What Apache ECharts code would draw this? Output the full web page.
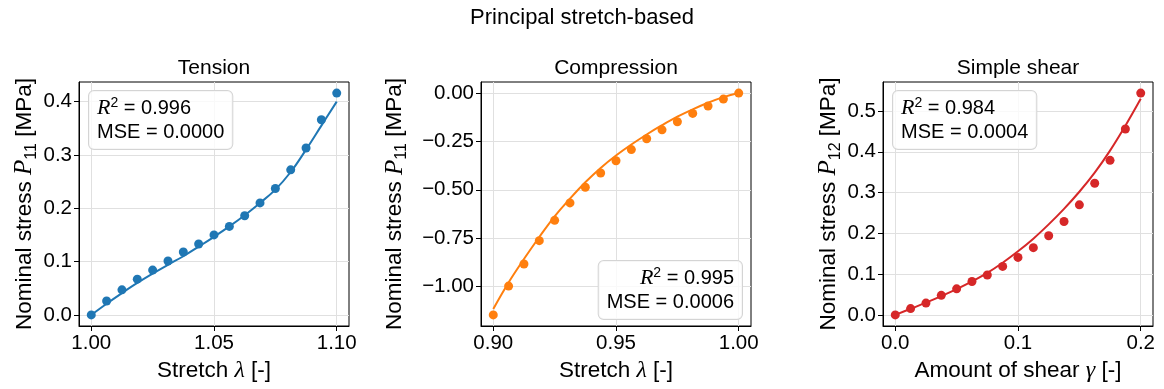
<!DOCTYPE html>
<html>
<head>
<meta charset="utf-8">
<script src="https://cdn.jsdelivr.net/npm/echarts@6/dist/echarts.min.js"></script>
<style>
  html, body { margin: 0; padding: 0; background: #fff; }
  #chart { width: 1164px; height: 389px; }
</style>
</head>
<body>
<div id="chart"></div>
<script>
// Uniaxial tension: measured nominal stress and model fit
const tensionStretch = [1.00000, 1.00625, 1.01250, 1.01875, 1.02500, 1.03125, 1.03750, 1.04375, 1.05000,
                        1.05625, 1.06250, 1.06875, 1.07500, 1.08125, 1.08750, 1.09375, 1.10000];
const tensionData = [0, 0.026, 0.047, 0.067, 0.084, 0.101, 0.118, 0.133, 0.150,
                     0.166, 0.186, 0.210, 0.237, 0.272, 0.313, 0.366, 0.416];
const tensionFit = [0, 0.021, 0.041, 0.060, 0.0775, 0.094, 0.110, 0.128, 0.1465,
                    0.166, 0.187, 0.210, 0.235, 0.268, 0.310, 0.355, 0.400];

// Uniaxial compression
const compressionStretch = [0.90000, 0.90625, 0.91250, 0.91875, 0.92500, 0.93125, 0.93750, 0.94375, 0.95000,
                            0.95625, 0.96250, 0.96875, 0.97500, 0.98125, 0.98750, 0.99375, 1.00000];
const compressionData = [-1.147, -0.998, -0.884, -0.763, -0.658, -0.568, -0.487, -0.413, -0.350,
                         -0.292, -0.236, -0.190, -0.148, -0.105, -0.067, -0.031, 0];
const compressionFit = [-1.116, -0.979, -0.858, -0.744, -0.637, -0.546, -0.461, -0.387, -0.323,
                        -0.266, -0.214, -0.166, -0.122, -0.084, -0.050, -0.021, 0];

// Simple shear
const shearAmount = [0, 0.0125, 0.025, 0.0375, 0.05, 0.0625, 0.075, 0.0875, 0.1,
                     0.1125, 0.125, 0.1375, 0.15, 0.1625, 0.175, 0.1875, 0.2];
const shearData = [0, 0.0155, 0.029, 0.048, 0.064, 0.082, 0.098, 0.119, 0.141,
                   0.165, 0.194, 0.229, 0.270, 0.323, 0.379, 0.456, 0.544];
const shearFit = [0, 0.015, 0.030, 0.046, 0.063, 0.082, 0.103, 0.128, 0.156,
                  0.187, 0.222, 0.260, 0.302, 0.349, 0.403, 0.464, 0.530];

// Tick positions
const tensionXTicks = [1.00, 1.05, 1.10];
const tensionYTicks = [0.0, 0.1, 0.2, 0.3, 0.4];
const compressionXTicks = [0.90, 0.95, 1.00];
const compressionYTicks = [-1.00, -0.75, -0.50, -0.25, 0.00];
const shearXTicks = [0.0, 0.1, 0.2];
const shearYTicks = [0.0, 0.1, 0.2, 0.3, 0.4, 0.5];

// Fit quality annotations
const panelTitles = ['Tension', 'Compression', 'Simple shear'];
const r2Values = ['0.996', '0.995', '0.984'];
const mseValues = ['0.0000', '0.0006', '0.0004'];

const SANS = "'Liberation Sans', Arial, sans-serif";
const SERIF = "'Liberation Serif', 'DejaVu Serif', serif";
const colors = ['#1f77b4', '#ff7f0e', '#d62728'];

function zip(xs, ys) { return xs.map((x, i) => [x, ys[i]]); }
function padded(values, frac) {
  const lo = Math.min(...values), hi = Math.max(...values);
  const m = (hi - lo) * frac;
  return [lo - m, hi + m];
}
function fmt(digits) {
  return v => v.toFixed(digits).replace('-', '\u2212');
}

const mathRich = {
  t: { fontFamily: SANS, fontSize: 22.5, color: '#000', lineHeight: 30, verticalAlign: 'middle' },
  i: { fontFamily: SERIF, fontStyle: 'italic', fontSize: 25, color: '#000', lineHeight: 30, verticalAlign: 'middle' },
  m: { fontFamily: SERIF, fontStyle: 'italic', fontSize: 24, color: '#000', lineHeight: 30, verticalAlign: 'middle' },
  sub: { fontFamily: SANS, fontSize: 16, color: '#000', lineHeight: 16, verticalAlign: 'bottom' }
};

function valueAxis(gridIndex, range, ticks, digits, name, nameGap) {
  return {
    type: 'value',
    gridIndex: gridIndex,
    min: range[0],
    max: range[1],
    name: name,
    nameLocation: 'middle',
    nameGap: nameGap,
    nameTextStyle: { rich: mathRich },
    axisLine: { show: true, onZero: false, lineStyle: { color: '#000', width: 1 } },
    axisTick: { show: true, inside: false, length: 5, customValues: ticks, lineStyle: { color: '#000', width: 1 } },
    axisLabel: { customValues: ticks, formatter: fmt(digits), fontFamily: SANS, fontSize: 20.5, color: '#000', margin: 7 },
    splitLine: { show: true, lineStyle: { color: '#e0e0e0', width: 1 } }
  };
}

const xName1 = '{t|Stretch }{m|\u03bb}{t| [-]}';
const xName3 = '{t|Amount of shear }{m|\u03b3}{t| [-]}';
const yName11 = '{t|Nominal stress }{i|P}{sub|11}{t| [MPa]}';
const yName12 = '{t|Nominal stress }{i|P}{sub|12}{t| [MPa]}';

const gridTop = 82, gridHeight = 244, gridWidth = 270;
const gridLefts = [79, 481, 883];

function annotation(idx, x, y, alignRight) {
  return {
    type: 'text',
    x: x, y: y, z: 100,
    style: {
      text: '{i|R}{sup|2}{t| = ' + r2Values[idx] + '}\n{t|MSE = ' + mseValues[idx] + '}',
      align: alignRight ? 'right' : 'left',
      verticalAlign: 'top',
      backgroundColor: 'rgba(255,255,255,0.8)',
      borderColor: '#d4d4d4',
      borderWidth: 1,
      borderRadius: 5,
      padding: [5, 8, 5, 8],
      rich: {
        t: { fontFamily: SANS, fontSize: 20, color: '#000', lineHeight: 24, verticalAlign: 'middle' },
        i: { fontFamily: SERIF, fontStyle: 'italic', fontSize: 22, color: '#000', lineHeight: 24, verticalAlign: 'middle' },
        sup: { fontFamily: SANS, fontSize: 14, color: '#000', lineHeight: 14, verticalAlign: 'top' }
      }
    }
  };
}

const option = {
  animation: false,
  backgroundColor: '#fff',
  grid: gridLefts.map(l => ({
    left: l, top: gridTop, width: gridWidth, height: gridHeight,
    show: true, borderColor: '#000', borderWidth: 1, containLabel: false
  })),
  xAxis: [
    valueAxis(0, padded(tensionStretch, 0.05), tensionXTicks, 2, xName1, 30),
    valueAxis(1, padded(compressionStretch, 0.05), compressionXTicks, 2, xName1, 30),
    valueAxis(2, padded(shearAmount, 0.05), shearXTicks, 1, xName3, 30)
  ],
  yAxis: [
    valueAxis(0, padded(tensionData, 0.05), tensionYTicks, 1, yName11, 38),
    valueAxis(1, padded(compressionData, 0.05), compressionYTicks, 2, yName11, 71),
    valueAxis(2, padded(shearData, 0.05), shearYTicks, 1, yName12, 39)
  ],
  series: [
    { type: 'line', xAxisIndex: 0, yAxisIndex: 0, data: zip(tensionStretch, tensionFit), smooth: 0.4, showSymbol: false, lineStyle: { color: colors[0], width: 2 }, z: 2, silent: true },
    { type: 'scatter', xAxisIndex: 0, yAxisIndex: 0, data: zip(tensionStretch, tensionData), symbolSize: 9, itemStyle: { color: colors[0], opacity: 1 }, z: 3 },
    { type: 'line', xAxisIndex: 1, yAxisIndex: 1, data: zip(compressionStretch, compressionFit), smooth: 0.4, showSymbol: false, lineStyle: { color: colors[1], width: 2 }, z: 2, silent: true },
    { type: 'scatter', xAxisIndex: 1, yAxisIndex: 1, data: zip(compressionStretch, compressionData), symbolSize: 9, itemStyle: { color: colors[1], opacity: 1 }, z: 3 },
    { type: 'line', xAxisIndex: 2, yAxisIndex: 2, data: zip(shearAmount, shearFit), smooth: 0.4, showSymbol: false, lineStyle: { color: colors[2], width: 2 }, z: 2, silent: true },
    { type: 'scatter', xAxisIndex: 2, yAxisIndex: 2, data: zip(shearAmount, shearData), symbolSize: 9, itemStyle: { color: colors[2], opacity: 1 }, z: 3 }
  ],
  graphic: [
    { type: 'text', x: 582, y: 18, style: { text: 'Principal stretch-based', font: '22px ' + SANS, fill: '#000', align: 'center', verticalAlign: 'middle' } },
    ...panelTitles.map((t, i) => ({
      type: 'text', x: gridLefts[i] + gridWidth / 2, y: 68,
      style: { text: t, font: '21px ' + SANS, fill: '#000', align: 'center', verticalAlign: 'middle' }
    })),
    annotation(0, 89, 91, false),
    annotation(1, 742, 261, true),
    annotation(2, 893, 91, false)
  ]
};

const chart = echarts.init(document.getElementById('chart'), null, { renderer: 'canvas' });
chart.setOption(option);
</script>
</body>
</html>
